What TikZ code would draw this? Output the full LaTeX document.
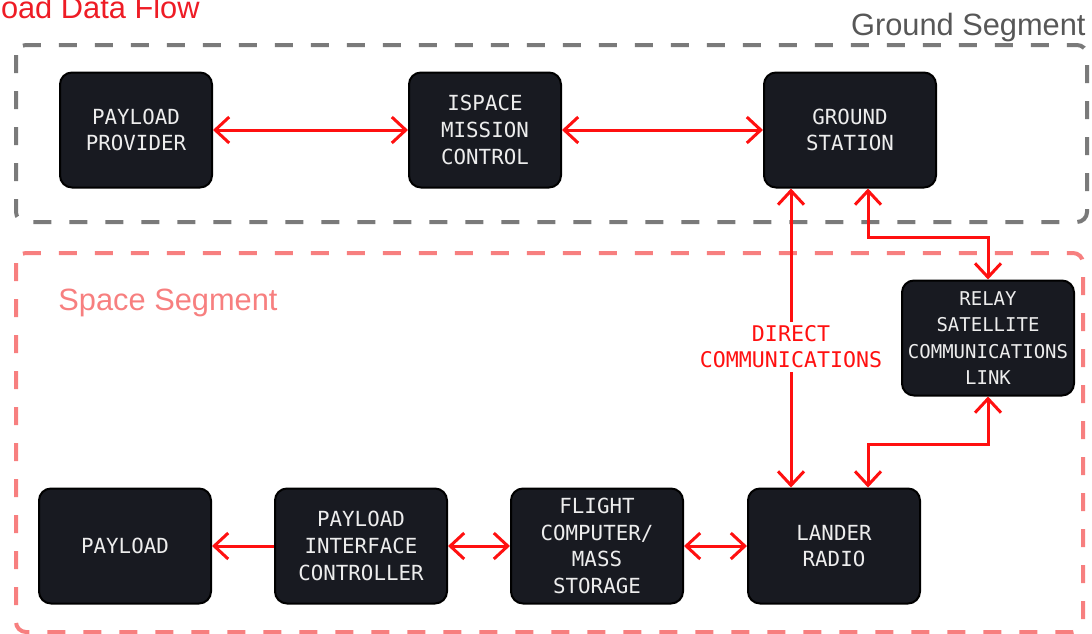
\documentclass[tikz,border=0pt]{standalone}
\usepackage{fontspec}
\setmainfont{Liberation Sans}
\setmonofont{DejaVu Sans Mono}
\usetikzlibrary{arrows.meta}

\definecolor{boxfill}{HTML}{181A21}
\definecolor{boxtext}{HTML}{EDEDED}
\definecolor{linkred}{HTML}{FF1010}
\definecolor{titlered}{HTML}{EE1C25}
\definecolor{spacepink}{HTML}{F77F7F}
\definecolor{groundgray}{HTML}{7A7A7A}
\definecolor{groundtext}{HTML}{575757}

\tikzset{
  blk/.style={draw=black, line width=1pt, fill=boxfill, rounded corners=6pt,
    minimum width=86pt, minimum height=57.5pt, inner sep=0pt, align=center,
    text=boxtext, font=\ttfamily\fontsize{10.4}{13.3}\selectfont},
  narrowblk/.style={blk, minimum width=76pt},
  link/.style={draw=linkred, line width=1.5pt,
    {Straight Barb[length=7pt,width=13pt]}-{Straight Barb[length=7pt,width=13pt]}},
  onelink/.style={draw=linkred, line width=1.5pt, -{Straight Barb[length=7pt,width=13pt]}},
  segbox/.style={line width=2pt, dash pattern=on 9pt off 9pt, rounded corners=5pt},
  seglabel/.style={font=\fontsize{15.4}{18}\selectfont, inner sep=0pt}
}

\begin{document}
\begin{tikzpicture}[x=0.5pt, y=-0.5pt]
   \useasboundingbox (0,0) rectangle (1092,633);

   % segments
   \draw[segbox, draw=groundgray] (16,45) rectangle (1087,222);
   \draw[segbox, draw=spacepink] (16,253) rectangle (1083,632);
   \draw (200,18) node[seglabel, text=titlered, anchor=base east] (title) {Payload Data Flow};
   \draw (1086,35) node[seglabel, text=groundtext, anchor=base east] (groundlbl) {Ground Segment};
   \draw (58,310) node[seglabel, text=spacepink, anchor=base west] (spacelbl) {Space Segment};

   % ground segment
   \draw (136,130) node[narrowblk] (provider) {PAYLOAD\\PROVIDER};
   \draw (485,130) node[narrowblk] (control) {ISPACE\\MISSION\\CONTROL};
   \draw (850,130) node[blk] (station) {GROUND\\STATION};

   % space segment
   \draw (988,338) node[blk, font=\ttfamily\fontsize{9.5}{13.3}\selectfont] (relay) {RELAY\\SATELLITE\\COMMUNICATIONS\\LINK};
   \draw (125,546) node[blk] (payload) {PAYLOAD};
   \draw (361,546) node[blk] (pic) {PAYLOAD\\INTERFACE\\CONTROLLER};
   \draw (597,546) node[blk] (flight) {FLIGHT\\COMPUTER/\\MASS\\STORAGE};
   \draw (834,546) node[blk] (radio) {LANDER\\RADIO};

     \path[link] (provider) edge (control);
     \path[link] (control) edge (station);
     \path[onelink] (pic) edge (payload);
     \path[link] (pic) edge (flight);
     \path[link] (flight) edge (radio);

     \draw[link] ([xshift=-29.5pt]station.south) -- ([xshift=-21.5pt]radio.north)
        node[pos=0.53, fill=white, inner sep=2pt, align=center, text=linkred,
             font=\ttfamily\fontsize{10.8}{13}\selectfont] (direct) {DIRECT\\COMMUNICATIONS};
     \draw[link] ([xshift=9pt]station.south) -- ++(0,49) -| (relay.north);
     \draw[link] (relay.south) -- ++(0,48) -| ([xshift=17pt]radio.north);

\end{tikzpicture}
\end{document}
